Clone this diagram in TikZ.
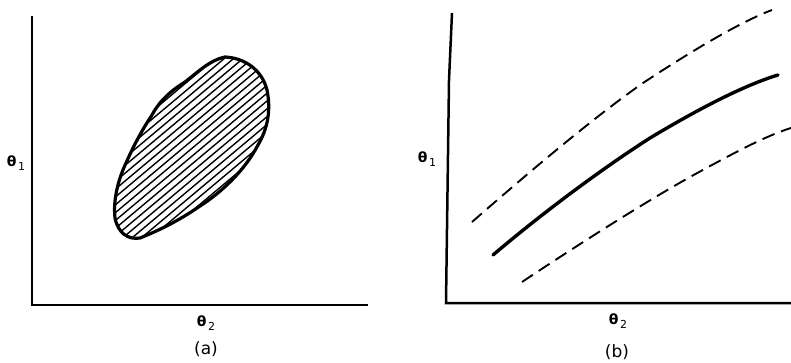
\documentclass[tikz,border=0pt]{standalone}
\usepackage{fontspec}
\setmainfont{DejaVu Sans}
\usetikzlibrary{calc}
\newcommand{\thsub}[1]{θ\kern1.5pt\raisebox{-0.45ex}{\fontsize{11}{12}\mdseries\selectfont #1}}
\begin{document}
\begin{tikzpicture}[x=1pt,y=-1pt,
  axis/.style={line width=2.5pt},
  blobline/.style={line width=3.2pt, line join=round},
  hatchline/.style={line width=1.4pt},
  solidcurve/.style={line width=3.4pt, line cap=round},
  dashcurve/.style={line width=1.9pt, dash pattern=on 13pt off 7pt},
  lbl/.style={font=\fontsize{14}{16}\bfseries\selectfont, inner sep=0pt},
  captext/.style={font=\fontsize{17}{19}\selectfont, inner sep=0pt}]
\useasboundingbox (0,0) rectangle (791,363);
% panel (a)
\coordinate (aT) at (32,16);
\coordinate (aO) at (32,305);
\coordinate (aR) at (368,305);
\draw[axis] (aT) -- (aO) -- (aR);
\node[lbl] (a1) at (16,163) {\thsub{1}};
\node[lbl] (a2) at (206,323) {\thsub{2}};
\node[captext] (acap) at (206,349) {(a)};
\def\blobpath{(225,57) .. controls (245,58) and (262,70) .. (267,90)
  .. controls (271,110) and (268,128) .. (258,145)
  .. controls (245,170) and (222,192) .. (200,206)
  .. controls (180,220) and (160,230) .. (140,238)
  .. controls (128,240) and (118,233) .. (115,218)
  .. controls (113,200) and (118,180) .. (126,163)
  .. controls (134,145) and (142,130) .. (152,115)
  .. controls (160,100) and (172,90) .. (185,82)
  .. controls (198,72) and (210,60) .. (225,57) -- cycle}
\begin{scope}
\clip \blobpath;
\foreach \k in {-28,...,28} {
  \draw[hatchline] ($(190,150)+(\k*6*0.643,\k*6*0.766)$) ++(-200*0.766,200*0.643) -- ++(400*0.766,-400*0.643);
}
\end{scope}
\draw[blobline] \blobpath;
% panel (b)
\coordinate (bT) at (452,13);
\coordinate (bO) at (446,303);
\coordinate (bR) at (791,303);
\draw[axis] (bT) -- (449,80) -- (bO) -- (bR);
\node[lbl] (b1) at (427,159) {\thsub{1}};
\node[lbl] (b2) at (618,321) {\thsub{2}};
\node[captext] (bcap) at (617,352) {(b)};
\draw[solidcurve] (493,255) .. controls (540,215) and (600,170) .. (650,138) .. controls (700,108) and (745,85) .. (778,75);
\draw[dashcurve] (472,222) .. controls (520,180) and (590,120) .. (643,83) .. controls (690,52) and (740,22) .. (772,10);
\draw[dashcurve] (522,282) .. controls (570,250) and (640,205) .. (690,177) .. controls (730,155) and (765,136) .. (791,128);
\end{tikzpicture}
\end{document}
